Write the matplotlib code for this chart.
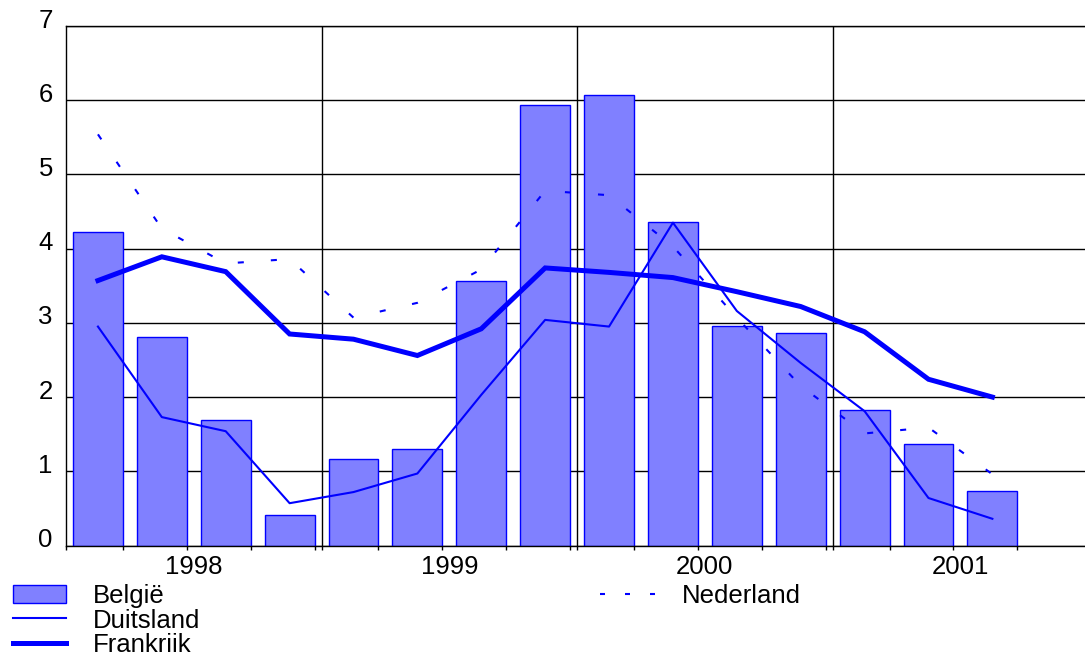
import matplotlib

matplotlib.use("Agg")
import matplotlib.pyplot as plt
import numpy as np
from matplotlib.lines import Line2D
from matplotlib.patches import Patch
from matplotlib.transforms import ScaledTranslation

plt.rcParams["font.family"] = ["Liberation Sans", "DejaVu Sans"]

# quarterly series, 1998 Q1 .. 2001 Q3
years = ["1998", "1999", "2000", "2001"]
belgie = [4.22, 2.81, 1.69, 0.41, 1.17, 1.30, 3.57, 5.94,
          6.07, 4.36, 2.96, 2.87, 1.82, 1.37, 0.73]
duitsland = [2.95, 1.73, 1.54, 0.57, 0.72, 0.97, 2.03, 3.04,
             2.95, 4.35, 3.16, 2.46, 1.81, 0.64, 0.36]
frankrijk = [3.57, 3.89, 3.69, 2.85, 2.78, 2.56, 2.92, 3.74,
             3.68, 3.61, 3.42, 3.22, 2.88, 2.24, 2.00]
nederland = [5.54, 4.27, 3.80, 3.86, 3.07, 3.27, 3.72, 4.78,
             4.72, 4.03, 3.07, 2.15, 1.51, 1.59, 0.96]

BLUE = "#0000ff"
BAR_FILL = "#8080ff"
FS = 18.5

x = np.arange(len(belgie))
bar_w = 0.78

fig = plt.figure(figsize=(10.85, 6.52), dpi=100)
ax = fig.add_axes([66 / 1085, 1 - 545.5 / 652, 1 - 66 / 1085, (545.5 - 26) / 652])

ax.bar(x, belgie, width=bar_w, color=BAR_FILL, edgecolor=BLUE, linewidth=1.0, zorder=2)
ax.plot(x, duitsland, color=BLUE, lw=1.5, zorder=3)
ax.plot(x, frankrijk, color=BLUE, lw=3.6, solid_joinstyle="miter", zorder=3)
ax.plot(x, nederland, color=BLUE, lw=1.5, dashes=(2.9, 13), zorder=3)

ax.set_xlim(-0.5, 15.45)
ax.set_ylim(0, 7)

# year separators and horizontal grid
for xb in [3.5, 7.5, 11.5]:
    ax.axvline(xb, color="black", lw=1.0, zorder=1)
ax.set_yticks(range(8))
ax.yaxis.grid(True, color="black", lw=1.0, zorder=1)
ax.set_axisbelow(True)

ax.spines["right"].set_visible(False)
for s in ["left", "bottom", "top"]:
    ax.spines[s].set_linewidth(1.0)
    ax.spines[s].set_color("black")

ax.tick_params(axis="y", length=0, pad=9.5, labelsize=FS)
offset = ScaledTranslation(0, 8 / 100, fig.dpi_scale_trans)
for lab in ax.get_yticklabels():
    lab.set_transform(lab.get_transform() + offset)

ax.set_xticks([1.5, 5.5, 9.5, 13.5])
ax.set_xticklabels(years)
ax.set_xticks(list(x + bar_w / 2) + [-0.5, 3.5, 7.5, 11.5], minor=True)
ax.tick_params(axis="x", which="major", length=0, pad=6.5, labelsize=FS)
ax.tick_params(axis="x", which="minor", length=3, width=1.0, direction="out", color="black")

# legend: three entries in the first column, Nederland on its own to the right
h_bel = Patch(facecolor=BAR_FILL, edgecolor=BLUE, linewidth=1.0)
h_dui = Line2D([], [], color=BLUE, lw=1.5)
h_fra = Line2D([], [], color=BLUE, lw=3.6)
h_ned = Line2D([], [], color=BLUE, lw=1.5, dashes=(2.4, 9.6))

fig.legend([h_bel, h_dui, h_fra], ["België", "Duitsland", "Frankrijk"],
           loc="upper left", bbox_to_anchor=(13 / 1085, 1 - 584 / 652),
           frameon=False, fontsize=FS, borderpad=0, borderaxespad=0,
           handlelength=2.05, handleheight=0.75, handletextpad=1.05,
           labelspacing=0.02)
fig.legend([h_ned], ["Nederland"],
           loc="upper left", bbox_to_anchor=(600 / 1085, 1 - 584 / 652),
           frameon=False, fontsize=FS, borderpad=0, borderaxespad=0,
           handlelength=2.2, handletextpad=1.0)

fig.savefig("out.png", dpi=100)
